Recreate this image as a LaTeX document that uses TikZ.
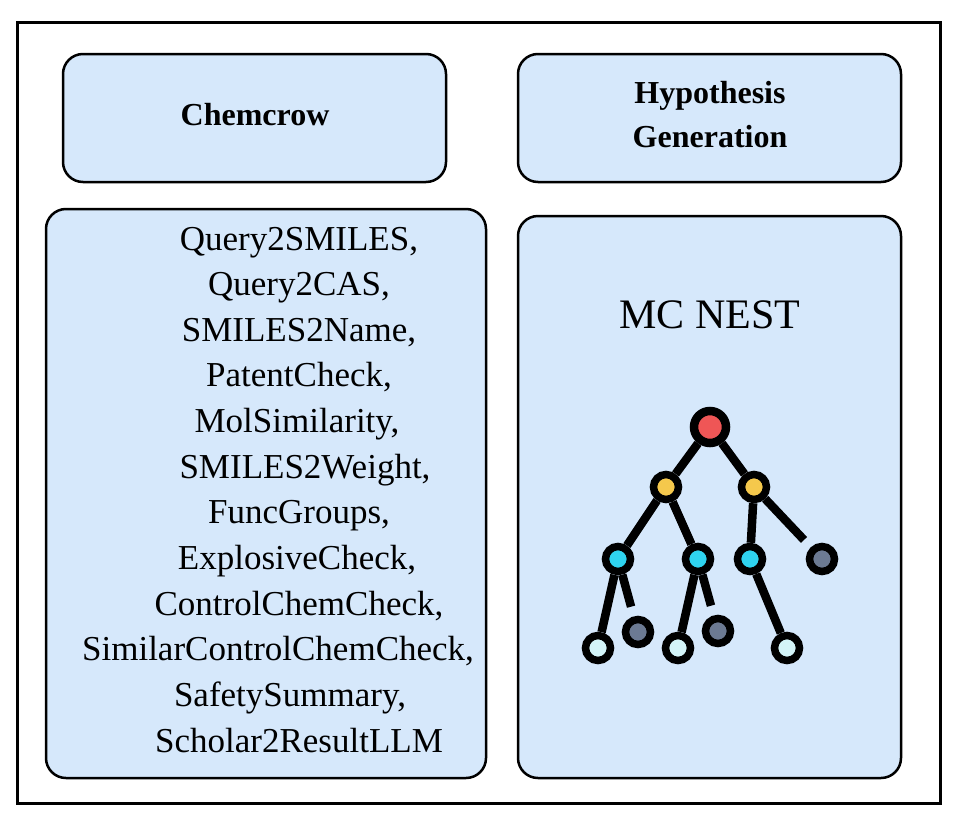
\documentclass[tikz,border=0pt]{standalone}
\usepackage{fontspec}
\setmainfont{Liberation Serif}
\definecolor{boxfill}{HTML}{D6E8FB}
\definecolor{rootred}{HTML}{EF5656}
\definecolor{nodeyellow}{HTML}{F5C84C}
\definecolor{nodecyan}{HTML}{2FD3EF}
\definecolor{nodegray}{HTML}{6C7A93}
\definecolor{nodelight}{HTML}{D3F4F8}
\tikzset{
  panel/.style={draw=black, line width=2.5pt, fill=boxfill, rounded corners=20pt, inner sep=0pt},
  titletext/.style={font=\fontsize{32}{44}\selectfont\bfseries, align=center, anchor=base},
  tooltext/.style={font=\fontsize{35}{46}\selectfont, anchor=base},
  tnode/.style={circle, draw=black, line width=7.5pt, minimum size=25pt, inner sep=0pt},
  tedge/.style={draw=black, line width=8.5pt},
  stub/.style={tedge, shorten >=10pt},
}
\begin{document}
\begin{tikzpicture}[x=1pt,y=-1pt]
\useasboundingbox (0,0) rectangle (973,819);
\fill[white] (0,0) rectangle (973,819);
\node[draw=black, line width=3pt, minimum width=923pt, minimum height=781pt, inner sep=0pt] (frame) at (478.5,412.5) {};
% panels
\node[panel, minimum width=383pt, minimum height=128pt] (chem) at (254.5,118) {};
\node[panel, minimum width=383pt, minimum height=128pt] (hyp) at (709.5,118) {};
\node[panel, minimum width=440pt, minimum height=569pt] (tools) at (266,493.5) {};
\node[panel, minimum width=383pt, minimum height=562pt] (mc) at (709.5,497) {};
% titles
\node[titletext] (chemt) at (255,125) {Chemcrow};
\node[titletext] (hyp1) at (710,103) {Hypothesis};
\node[titletext] (hyp2) at (710,147) {Generation};
% tool list
\node[tooltext] (t1) at (299,250) {Query2SMILES,};
\node[tooltext] (t2) at (299,295.6) {Query2CAS,};
\node[tooltext] (t3) at (299,341.3) {SMILES2Name,};
\node[tooltext] (t4) at (299,386.9) {PatentCheck,};
\node[tooltext] (t5) at (297,432.5) {MolSimilarity,};
\node[tooltext] (t6) at (305,478.2) {SMILES2Weight,};
\node[tooltext] (t7) at (299,523.8) {FuncGroups,};
\node[tooltext] (t8) at (297,569.4) {ExplosiveCheck,};
\node[tooltext] (t9) at (299,615.1) {ControlChemCheck,};
\node[tooltext] (t10) at (278,660.7) {SimilarControlChemCheck,};
\node[tooltext] (t11) at (290,706.3) {SafetySummary,};
\node[tooltext] (t12) at (299,752) {Scholar2ResultLLM};
% MC NEST
\node[font=\fontsize{42}{48}\selectfont, anchor=base] (mct) at (710,328) {MC NEST};
% tree nodes
\node[tnode, fill=rootred, line width=8.5pt, minimum size=32pt] (root) at (710,427) {};
\node[tnode, fill=nodeyellow] (y1) at (666,487) {};
\node[tnode, fill=nodeyellow] (y2) at (754,487) {};
\node[tnode, fill=nodecyan] (c1) at (618,559) {};
\node[tnode, fill=nodecyan] (c2) at (698,559) {};
\node[tnode, fill=nodecyan] (c3) at (750,559) {};
\node[tnode, fill=nodegray] (g3) at (822,559) {};
\node[tnode, fill=nodegray] (g1) at (638,632) {};
\node[tnode, fill=nodegray] (g2) at (718,631) {};
\node[tnode, fill=nodelight] (l1) at (598,648) {};
\node[tnode, fill=nodelight] (l2) at (678,648) {};
\node[tnode, fill=nodelight] (l3) at (787,648) {};
% tree edges
\draw[tedge] (root) -- (y1);
\draw[tedge] (root) -- (y2);
\draw[tedge] (y1) -- (c1);
\draw[tedge] (y1) -- (c2);
\draw[tedge] (y2) -- (c3);
\draw[stub] (y2) -- (g3);
\draw[tedge] (c1) -- (l1);
\draw[stub] (c1) -- (g1);
\draw[tedge] (c2) -- (l2);
\draw[stub] (c2) -- (g2);
\draw[tedge] (c3) -- (l3);
\end{tikzpicture}
\end{document}
